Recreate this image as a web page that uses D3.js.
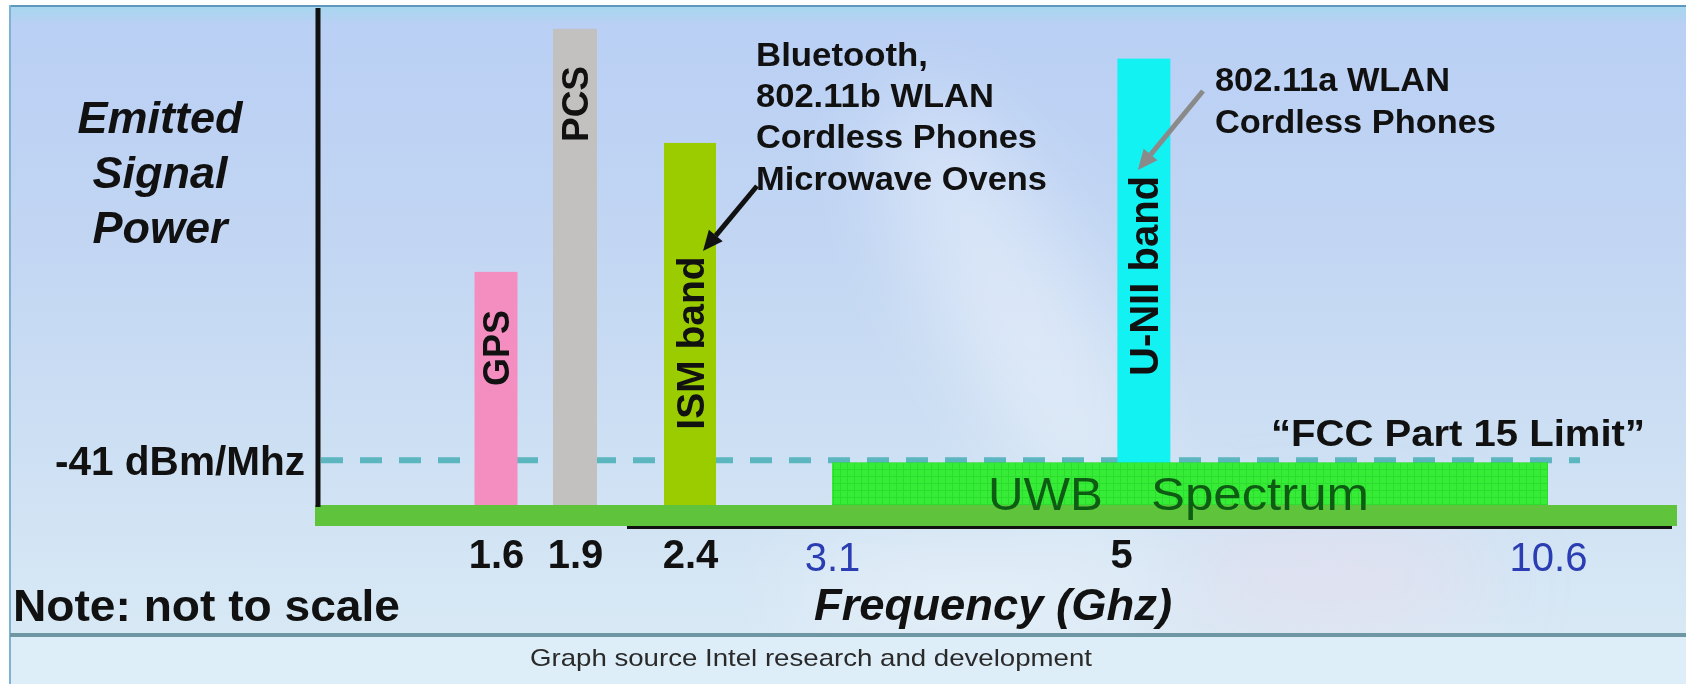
<!DOCTYPE html>
<html>
<head>
<meta charset="utf-8">
<script src="https://cdn.jsdelivr.net/npm/d3@7"></script>
<style>
  html, body { margin: 0; padding: 0; background: #ffffff; }
  svg { display: block; font-family: "Liberation Sans", Arial, sans-serif; }
</style>
</head>
<body>
<svg id="chart" width="1686" height="684"></svg>
<script>
// ---- data ---------------------------------------------------------------
// Frequency ticks along the bottom (GHz); the axis is not drawn to scale
const freqTicks = [1.6, 1.9, 2.4, 3.1, 5, 10.6];
// Ticks that mark the edges of the UWB allocation
const uwbEdges = [3.1, 10.6];
// Narrow-band services: name, centre frequency (GHz), relative emitted power
const bandNames  = ["GPS", "PCS", "ISM band", "U-NII band"];
const bandFreqs  = [1.6, 1.9, 2.4, 5.3];
const bandLevels = [47, 96, 73, 90];
// FCC Part 15 emission limit (relative power) and the UWB band
const fccLimit = 9;
const uwbRange = [3.1, 10.6];
// Callout texts
const ismNotes  = ["Bluetooth,", "802.11b WLAN", "Cordless Phones", "Microwave Ovens"];
const uniiNotes = ["802.11a WLAN", "Cordless Phones"];
const yTitle    = ["Emitted", "Signal", "Power"];

// ---- styles -------------------------------------------------------------
const bandStyle = {
  "GPS":        { fill: "#f48ec0", width: 43, font: 36, labelY: 348 },
  "PCS":        { fill: "#c3c0c0", width: 44, font: 37, labelY: 104 },
  "ISM band":   { fill: "#9acc00", width: 52, font: 39, labelY: 343 },
  "U-NII band": { fill: "#12f2f2", width: 53, font: 40, labelY: 276 }
};
const INK = "#111111";

// ---- scales -------------------------------------------------------------
// piecewise frequency scale: the diagram spreads the ticks by hand
const x = d3.scaleLinear().domain(freqTicks).range([496, 575, 690, 832, 1121, 1548]);
const y = d3.scaleLinear().domain([0, 100]).range([505, 9]);

const svg = d3.select("#chart");
const defs = svg.append("defs");

// background gradient of the slide panel
const bg = defs.append("linearGradient").attr("id", "bg").attr("x1", 0).attr("y1", 0).attr("x2", 0).attr("y2", 1);
[[0, "#b9cff4"], [0.35, "#c2d6f3"], [0.7, "#cfe1f3"], [1, "#dbebf6"]]
  .forEach(([o, c]) => bg.append("stop").attr("offset", o).attr("stop-color", c));
const topBand = defs.append("linearGradient").attr("id", "topBand").attr("x1", 0).attr("y1", 0).attr("x2", 0).attr("y2", 1);
topBand.append("stop").attr("offset", 0).attr("stop-color", "#a6d8ee").attr("stop-opacity", 0.9);
topBand.append("stop").attr("offset", 1).attr("stop-color", "#a6d8ee").attr("stop-opacity", 0);
defs.append("filter").attr("id", "haze").attr("x", "-50%").attr("y", "-50%").attr("width", "200%").attr("height", "200%")
  .append("feGaussianBlur").attr("stdDeviation", 45);

// faint grid texture on the UWB block
const pat = defs.append("pattern").attr("id", "uwbGrid").attr("patternUnits", "userSpaceOnUse")
  .attr("width", 7).attr("height", 7);
pat.append("rect").attr("width", 7).attr("height", 7).attr("fill", "#36ec36");
pat.append("path").attr("d", "M0,0.5H7M0.5,0V7").attr("stroke", "#2cdc2e").attr("stroke-width", 1);

// ---- slide panel --------------------------------------------------------
svg.append("rect").attr("x", 10).attr("y", 5).attr("width", 1676).attr("height", 679).attr("fill", "url(#bg)");
svg.append("rect").attr("x", 10).attr("y", 7).attr("width", 1676).attr("height", 18).attr("fill", "url(#topBand)");
const haze = svg.append("g").attr("filter", "url(#haze)");
haze.append("ellipse").attr("cx", 1010).attr("cy", 300).attr("rx", 70).attr("ry", 230)
  .attr("transform", "rotate(-28 1010 300)").attr("fill", "#ffffff").attr("opacity", 0.4);
haze.append("ellipse").attr("cx", 1330).attr("cy", 580).attr("rx", 150).attr("ry", 50)
  .attr("fill", "#f2dcec").attr("opacity", 0.5);
haze.append("ellipse").attr("cx", 980).attr("cy", 590).attr("rx", 200).attr("ry", 45)
  .attr("fill", "#ffffff").attr("opacity", 0.4);
svg.append("rect").attr("x", 10).attr("y", 637).attr("width", 1676).attr("height", 47).attr("fill", "#ddeef8");
svg.append("rect").attr("x", 10).attr("y", 5).attr("width", 1676).attr("height", 2).attr("fill", "#5f98bb");
svg.append("rect").attr("x", 9).attr("y", 5).attr("width", 2).attr("height", 679).attr("fill", "#7db3d2");
svg.append("rect").attr("x", 10).attr("y", 633).attr("width", 1676).attr("height", 4).attr("fill", "#6f96a3");

// ---- FCC limit (dashed) -------------------------------------------------
svg.append("line")
  .attr("x1", 321).attr("x2", 1580)
  .attr("y1", y(fccLimit)).attr("y2", y(fccLimit))
  .attr("stroke", "#5cb6c0").attr("stroke-width", 6)
  .attr("stroke-dasharray", "22 17");

// ---- narrow-band bars ---------------------------------------------------
const bands = bandNames.map((n, i) => ({ name: n, freq: bandFreqs[i], level: bandLevels[i] }));
svg.append("g").selectAll("rect").data(bands).join("rect")
  .attr("x", d => x(d.freq) - bandStyle[d.name].width / 2)
  .attr("width", d => bandStyle[d.name].width)
  .attr("y", d => y(d.level))
  .attr("height", d => y(0) - y(d.level))
  .attr("fill", d => bandStyle[d.name].fill);

// ---- UWB block ----------------------------------------------------------
svg.append("rect")
  .attr("x", x(uwbRange[0])).attr("width", x(uwbRange[1]) - x(uwbRange[0]))
  .attr("y", y(fccLimit) + 2).attr("height", y(0) - y(fccLimit) - 2)
  .attr("fill", "url(#uwbGrid)");

// ---- base band, axis lines ----------------------------------------------
svg.append("rect").attr("x", 315).attr("y", y(0)).attr("width", 1362).attr("height", 21).attr("fill", "#5fc43c");
svg.append("line").attr("x1", 627).attr("x2", 1672).attr("y1", 527.5).attr("y2", 527.5)
  .attr("stroke", INK).attr("stroke-width", 3);
svg.append("line").attr("x1", 318).attr("x2", 318).attr("y1", y(100) - 1).attr("y2", y(0) + 2)
  .attr("stroke", INK).attr("stroke-width", 5);

// ---- bar labels (vertical) ----------------------------------------------
svg.append("g").selectAll("text").data(bands).join("text")
  .attr("transform", d => {
    const s = bandStyle[d.name];
    return `translate(${x(d.freq) + s.font * 0.36},${s.labelY}) rotate(-90)`;
  })
  .attr("text-anchor", "middle")
  .attr("font-weight", "bold")
  .attr("font-size", d => bandStyle[d.name].font)
  .attr("fill", INK)
  .text(d => d.name);

// UWB label
const uwbY = 510;
svg.append("text").attr("x", 988).attr("y", uwbY).attr("font-size", 47).attr("fill", "#0e5c13")
  .attr("textLength", 115).attr("lengthAdjust", "spacingAndGlyphs").text("UWB");
svg.append("text").attr("x", 1151).attr("y", uwbY).attr("font-size", 47).attr("fill", "#0e5c13")
  .attr("textLength", 218).attr("lengthAdjust", "spacingAndGlyphs").text("Spectrum");

// ---- frequency axis labels ----------------------------------------------
const axis = d3.axisBottom(x).tickValues(freqTicks).tickSize(0).tickPadding(0).tickFormat(d => String(d));
const ax = svg.append("g").attr("transform", "translate(0,568)").call(axis);
ax.select(".domain").remove();
ax.attr("font-family", null).attr("font-size", null);
ax.selectAll(".tick text")
  .attr("y", d => uwbEdges.includes(d) ? 3 : 0).attr("dy", 0)
  .attr("font-size", 40)
  .attr("font-weight", d => uwbEdges.includes(d) ? "normal" : "bold")
  .attr("fill", d => uwbEdges.includes(d) ? "#2b3db2" : INK);

// ---- axis titles and notes ----------------------------------------------
svg.append("g").selectAll("text").data(yTitle).join("text")
  .attr("x", 160).attr("y", (d, i) => 133 + i * 55)
  .attr("text-anchor", "middle").attr("font-size", 45)
  .attr("font-weight", "bold").attr("font-style", "italic").attr("fill", INK)
  .text(d => d);

svg.append("text").attr("x", 305).attr("y", 475).attr("text-anchor", "end")
  .attr("font-size", 40).attr("font-weight", "bold").attr("fill", INK)
  .attr("textLength", 250).attr("lengthAdjust", "spacingAndGlyphs").text("-41 dBm/Mhz");

const ismWidths = [172, 238, 281, 291];
svg.append("g").selectAll("text").data(ismNotes).join("text")
  .attr("x", 756).attr("y", (d, i) => [66, 107, 148, 190][i])
  .attr("font-size", 34).attr("font-weight", "bold").attr("fill", INK)
  .attr("textLength", (d, i) => ismWidths[i]).attr("lengthAdjust", "spacingAndGlyphs")
  .text(d => d);

const uniiWidths = [235, 281];
svg.append("g").selectAll("text").data(uniiNotes).join("text")
  .attr("x", 1215).attr("y", (d, i) => 91 + i * 42)
  .attr("font-size", 34).attr("font-weight", "bold").attr("fill", INK)
  .attr("textLength", (d, i) => uniiWidths[i]).attr("lengthAdjust", "spacingAndGlyphs")
  .text(d => d);

svg.append("text").attr("x", 1271).attr("y", 446)
  .attr("font-size", 36).attr("font-weight", "bold").attr("fill", INK)
  .attr("textLength", 374).attr("lengthAdjust", "spacingAndGlyphs")
  .text("\u201CFCC Part 15 Limit\u201D");

svg.append("text").attr("x", 13).attr("y", 621)
  .attr("font-size", 45).attr("font-weight", "bold").attr("fill", INK)
  .attr("textLength", 387).attr("lengthAdjust", "spacingAndGlyphs")
  .text("Note: not to scale");

svg.append("text").attr("x", 814).attr("y", 620)
  .attr("font-size", 45).attr("font-weight", "bold").attr("font-style", "italic").attr("fill", INK)
  .attr("textLength", 358).attr("lengthAdjust", "spacingAndGlyphs")
  .text("Frequency (Ghz)");

svg.append("text").attr("x", 530).attr("y", 666)
  .attr("font-size", 24).attr("fill", "#2a2a2a")
  .attr("textLength", 562).attr("lengthAdjust", "spacingAndGlyphs")
  .text("Graph source Intel research and development");

// ---- callout arrows -----------------------------------------------------
function arrow(x1, y1, x2, y2, color) {
  const a = Math.atan2(y2 - y1, x2 - x1), L = 20, W = 9;
  const bx = x2 - L * Math.cos(a), by = y2 - L * Math.sin(a);
  svg.append("line").attr("x1", x1).attr("y1", y1).attr("x2", bx).attr("y2", by)
    .attr("stroke", color).attr("stroke-width", 5);
  const px = -Math.sin(a) * W, py = Math.cos(a) * W;
  svg.append("path")
    .attr("d", `M${x2},${y2}L${bx + px},${by + py}L${bx - px},${by - py}Z`)
    .attr("fill", color);
}
// ISM callout ends on the ISM bar, U-NII callout on the U-NII bar
const ism = bands[2], unii = bands[3];
arrow(757, 186, x(ism.freq) + 13, 251, "#111111");
arrow(1203, 91, x(unii.freq) - 6, 170, "#8a8a8a");
</script>
</body>
</html>
